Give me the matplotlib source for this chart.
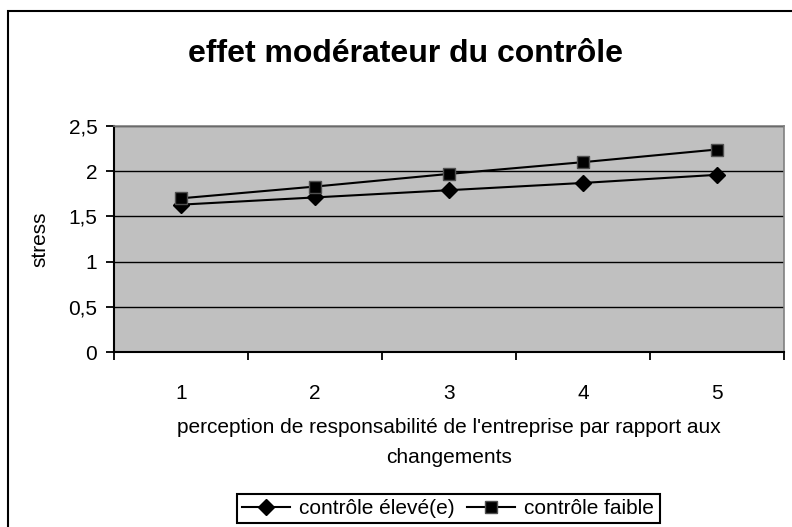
import numpy as np
import matplotlib
matplotlib.use("Agg")
import matplotlib.pyplot as plt
from matplotlib.patches import Rectangle

plt.rcParams['font.family'] = ['Liberation Sans', 'DejaVu Sans']

#data
categories = ['1', '2', '3', '4', '5']
controle_eleve = [1.63, 1.71, 1.79, 1.87, 1.96]
controle_faible = [1.70, 1.83, 1.97, 2.10, 2.24]
y_ticks = [0, 0.5, 1, 1.5, 2, 2.5]
y_labels = ['0', '0,5', '1', '1,5', '2', '2,5']

W, H = 792, 527
FS = 15#font size of the axis texts
fig = plt.figure(figsize=(W / 100, H / 100), dpi=100)

#outer chart frame (right and bottom are cut off by the picture)
fig.add_artist(Rectangle((8 / W, -0.1), 1.2, 1 - 11 / H + 0.1, transform=fig.transFigure,
                         facecolor='none', edgecolor='black', linewidth=1.5))

#plot area [x0, y0, width, height] from the bottom left
ax = fig.add_axes([114 / W, 1 - 352 / H, (784 - 114) / W, (352 - 126) / H])
ax.set_facecolor('#C0C0C0')

x = np.arange(1, len(categories) + 1)
ax.plot(x, controle_eleve, color='black', linewidth=1.5, marker='D', markersize=8,
        markerfacecolor='black', markeredgecolor='black', label='contrôle élevé(e)')
ax.plot(x, controle_faible, color='black', linewidth=1.5, marker='s', markersize=9,
        markerfacecolor='black', markeredgecolor='#505050', label='contrôle faible')

ax.set_xlim(0.5, len(categories) + 0.5)
ax.set_ylim(0, 2.5)

#ticks between the categories, labels under the categories
ax.set_xticks(np.arange(0.5, len(categories) + 1, 1))
ax.set_xticklabels([])
ax.set_xticks(x, minor=True)
ax.set_xticklabels(categories, minor=True, fontsize=FS)
ax.tick_params(axis='x', which='major', direction='out', length=6, width=1.3)
ax.tick_params(axis='x', which='minor', length=0, pad=23)

ax.set_yticks(y_ticks)
ax.set_yticklabels(y_labels, fontsize=FS)
ax.tick_params(axis='y', direction='out', length=6, width=1.3, pad=6)

ax.yaxis.grid(True, color='black', linewidth=1)
ax.set_axisbelow(True)

for side in ['top', 'right']:
    ax.spines[side].set_color('#808080')
    ax.spines[side].set_linewidth(1.2)
for side in ['left', 'bottom']:
    ax.spines[side].set_color('black')
    ax.spines[side].set_linewidth(1.5)

fig.text(406 / W, 1 - 62 / H, 'effet modérateur du contrôle', ha='center', va='baseline',
         fontsize=23, fontweight='bold')
fig.text(40 / W, 1 - 239 / H, 'stress', ha='center', va='center', rotation=90, fontsize=FS)
fig.text(449 / W, 1 - 433 / H, "perception de responsabilité de l'entreprise par rapport aux",
         ha='center', va='baseline', fontsize=FS)
fig.text(449 / W, 1 - 463 / H, 'changements', ha='center', va='baseline', fontsize=FS)

leg = fig.legend(loc='center', bbox_to_anchor=(448 / W, 1 - 508.5 / H), ncol=2, fontsize=FS,
                 frameon=True, fancybox=False, framealpha=1, edgecolor='black',
                 handlelength=2.3, handletextpad=0.45, columnspacing=0.6, borderpad=0.25,
                 borderaxespad=0)
leg.get_frame().set_linewidth(1.5)

fig.savefig('out.png', dpi=100)
